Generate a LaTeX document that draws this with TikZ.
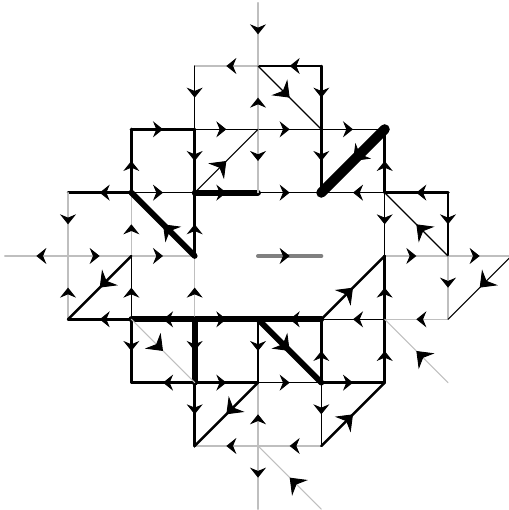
\documentclass[tikz,border=0pt]{standalone}
\usetikzlibrary{arrows.meta,decorations.markings}
\begin{document}
\begin{tikzpicture}[
    line cap=round,
    mid/.style={postaction={decorate}, decoration={markings, mark=at position 0.5 with {\arrow{Stealth[length=4.5pt, width=7.2pt, inset=1.5pt, line width=0.4pt, color=black]}}}},
    diag/.style={postaction={decorate}, decoration={markings, mark=at position 0.5 with {\arrow{Stealth[length=6.5pt, width=10pt, inset=2.2pt, line width=0.4pt, color=black]}}}},
    gr/.style={draw=black!25, line width=0.5pt},
    grthick/.style={draw=black!50, line width=1.8pt},
    bk1/.style={draw=black, line width=0.5pt},
    bk2/.style={draw=black, line width=1.1pt},
    bk3/.style={draw=black, line width=1.6pt},
    bk4/.style={draw=black, line width=2.6pt},
    bk5/.style={draw=black, line width=4.6pt}
]
\useasboundingbox (-4.074,-4.011) rectangle (3.948,4.042);
\foreach \x in {-4,...,4}
  \foreach \y in {-4,...,4}
    \coordinate (n\x\y) at (\x,\y);

% horizontal
\draw[gr, mid] (n03) -- (n-13);
\draw[bk2, mid] (n13) -- (n03);
\draw[bk3, mid] (n-22) -- (n-12);
\draw[bk1, mid] (n-12) -- (n02);
\draw[bk1, mid] (n02) -- (n12);
\draw[bk1, mid] (n12) -- (n22);
\draw[bk2, mid] (n-21) -- (n-31);
\draw[bk1, mid] (n-21) -- (n-11);
\draw[bk4, mid] (n-11) -- (n01);
\draw[bk1, mid] (n01) -- (n11);
\draw[bk1, mid] (n21) -- (n11);
\draw[bk3, mid] (n31) -- (n21);
\draw[gr, mid] (n-30) -- (n-40);
\draw[gr, mid] (n-30) -- (n-20);
\draw[gr, mid] (n-20) -- (n-10);
\draw[grthick, mid] (n00) -- (n10);
\draw[gr, mid] (n20) -- (n30);
\draw[gr, mid] (n30) -- (n40);
\draw[bk2, mid] (n-2-1) -- (n-3-1);
\draw[bk4, mid] (n-1-1) -- (n-2-1);
\draw[bk4, mid] (n-1-1) -- (n0-1);
\draw[bk4, mid] (n1-1) -- (n0-1);
\draw[bk1, mid] (n2-1) -- (n1-1);
\draw[gr, mid] (n3-1) -- (n2-1);
\draw[bk2, mid] (n-1-2) -- (n-2-2);
\draw[bk2, mid] (n-1-2) -- (n0-2);
\draw[bk1, mid] (n0-2) -- (n1-2);
\draw[bk2, mid] (n1-2) -- (n2-2);
\draw[gr, mid] (n0-3) -- (n-1-3);
\draw[gr, mid] (n1-3) -- (n0-3);

% vertical
\draw[gr, mid] (n-31) -- (n-30);
\draw[gr, mid] (n-3-1) -- (n-30);
\draw[bk3, mid] (n-21) -- (n-22);
\draw[gr, mid] (n-20) -- (n-21);
\draw[bk1, mid] (n-2-1) -- (n-20);
\draw[bk2, mid] (n-2-1) -- (n-2-2);
\draw[bk1, mid] (n-13) -- (n-12);
\draw[bk3, mid] (n-12) -- (n-11);
\draw[bk2, mid] (n-10) -- (n-11);
\draw[gr, mid] (n-1-1) -- (n-10);
\draw[bk4, mid] (n-1-1) -- (n-1-2);
\draw[bk3, mid] (n-1-2) -- (n-1-3);
\draw[gr, mid] (n04) -- (n03);
\draw[gr, mid] (n02) -- (n03);
\draw[gr, mid] (n02) -- (n01);
\draw[bk1, mid] (n0-1) -- (n0-2);
\draw[gr, mid] (n0-3) -- (n0-2);
\draw[gr, mid] (n0-3) -- (n0-4);
\draw[bk2, mid] (n13) -- (n12);
\draw[bk3, mid] (n12) -- (n11);
\draw[bk2, mid] (n1-2) -- (n1-1);
\draw[bk1, mid] (n1-2) -- (n1-3);
\draw[bk2, mid] (n21) -- (n22);
\draw[bk1, mid] (n21) -- (n20);
\draw[bk3, mid] (n2-1) -- (n20);
\draw[bk3, mid] (n2-2) -- (n2-1);
\draw[bk2, mid] (n31) -- (n30);
\draw[gr, mid] (n30) -- (n3-1);

% diagonal
\draw[bk1, diag] (n03) -- (n12);
\draw[bk1, diag] (n-11) -- (n02);
\draw[bk5, diag] (n22) -- (n11);
\draw[bk4, diag] (n-10) -- (n-21);
\draw[bk1, diag] (n30) -- (n21);
\draw[bk2, diag] (n-20) -- (n-3-1);
\draw[gr, diag] (n-2-1) -- (n-1-2);
\draw[bk4, diag] (n0-1) -- (n1-2);
\draw[bk2, diag] (n1-1) -- (n20);
\draw[gr, diag] (n3-2) -- (n2-1);
\draw[bk1, diag] (n40) -- (n3-1);
\draw[bk2, diag] (n0-2) -- (n-1-3);
\draw[bk2, diag] (n1-3) -- (n2-2);
\draw[gr, diag] (n1-4) -- (n0-3);
\end{tikzpicture}
\end{document}
